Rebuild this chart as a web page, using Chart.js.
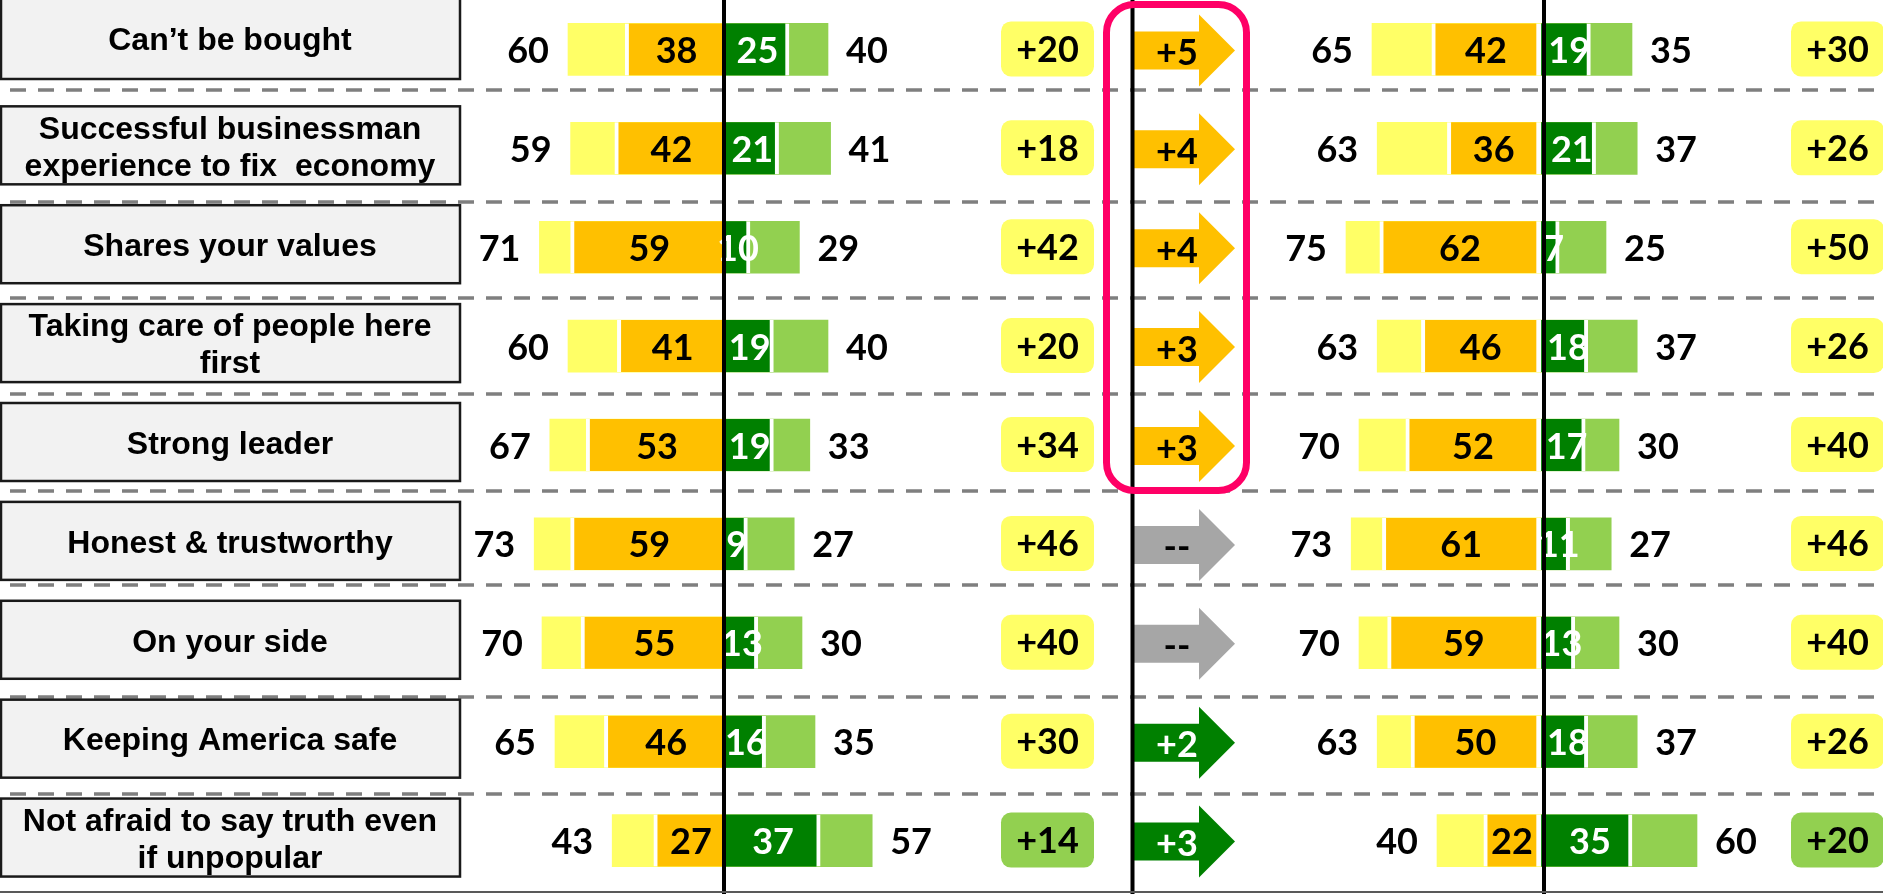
<!DOCTYPE html>
<html>
<head>
<meta charset="utf-8">
<title>Atributos</title>
<script src="https://cdn.jsdelivr.net/npm/chart.js@4.4.1/dist/chart.umd.min.js"></script>
<style>
  html, body { margin: 0; padding: 0; background: #fff; }
  #wrap { width: 1883px; height: 894px; }
</style>
</head>
<body>
<div id="wrap"><canvas id="attrChart" width="1883" height="894"></canvas></div>
<script>
// Filas (atributos)
const categories = [
    'Can’t be bought',
    ['Successful businessman', 'experience to fix  economy'],
    'Shares your values',
    ['Taking care of people here', 'first'],
    'Strong leader',
    'Honest & trustworthy',
    'On your side',
    'Keeping America safe',
    ['Not afraid to say truth even', 'if unpopular']
];

// Primera medición: lado izquierdo (total / fuerte) y lado derecho (fuerte / total)
const leftTotal1   = [60, 59, 71, 60, 67, 73, 70, 65, 43];
const leftStrong1  = [38, 42, 59, 41, 53, 59, 55, 46, 27];
const rightStrong1 = [25, 21, 10, 19, 19, 9, 13, 16, 37];
const rightTotal1  = [40, 41, 29, 40, 33, 27, 30, 35, 57];
const net1 = ['+20', '+18', '+42', '+20', '+34', '+46', '+40', '+30', '+14'];

// Cambio entre mediciones
const change = ['+5', '+4', '+4', '+3', '+3', '--', '--', '+2', '+3'];

// Segunda medición
const leftTotal2   = [65, 63, 75, 63, 70, 73, 70, 63, 40];
const leftStrong2  = [42, 36, 62, 46, 52, 61, 59, 50, 22];
const rightStrong2 = [19, 21, 7, 18, 17, 11, 13, 18, 35];
const rightTotal2  = [35, 37, 25, 37, 30, 27, 30, 37, 60];
const net2 = ['+30', '+26', '+50', '+26', '+40', '+46', '+40', '+26', '+20'];

// Estilos
const C = {
    yellow: '#ffff66',
    orange: '#ffc000',
    green: '#008000',
    lightGreen: '#92d050',
    gray: '#a6a6a6',
    pink: '#ff0066'
};
const netColors = [C.yellow, C.yellow, C.yellow, C.yellow, C.yellow, C.yellow, C.yellow, C.yellow, C.lightGreen];
const arrowColors = [C.orange, C.orange, C.orange, C.orange, C.orange, C.gray, C.gray, C.green, C.green];

// Layout (px)
const W = 1883, H = 894;
const PX = 2.6;            // px por punto porcentual
const ZERO_1 = 724;        // eje central del primer gráfico
const ZERO_2 = 1541;       // eje central del segundo gráfico
const dashShift = [-9, 4, 1, -2, -3, -8, 5, 3];  // ajuste de las líneas punteadas respecto al punto medio
const NUM_FONT = 'bold 36px Lato, "Open Sans", sans-serif';
const LABEL_FONT = 'bold 32px "Liberation Sans", Arial, sans-serif';

function bar(data, axis, color, border) {
    return {
        data: data,
        xAxisID: axis,
        yAxisID: 'y',
        backgroundColor: color,
        borderColor: '#ffffff',
        borderWidth: border,
        borderSkipped: false,
        grouped: false,
        barThickness: 52
    };
}

const neg = arr => arr.map(v => -v);

// Orden: los "fuertes" primero para que se pinten encima de los totales
const datasets = [
    bar(neg(leftStrong1), 'x1', C.orange, { left: 4 }),
    bar(rightStrong1, 'x1', C.green, { right: 4 }),
    bar(neg(leftTotal1), 'x1', C.yellow, 0),
    bar(rightTotal1, 'x1', C.lightGreen, 0),
    bar(neg(leftStrong2), 'x2', C.orange, { left: 4, right: 5 }),
    bar(rightStrong2, 'x2', C.green, { right: 4 }),
    bar(neg(leftTotal2), 'x2', C.yellow, 0),
    bar(rightTotal2, 'x2', C.lightGreen, 0)
];

function roundBox(ctx, x, y, w, h, r) {
    ctx.beginPath();
    ctx.roundRect(x, y, w, h, r);
}

const decor = {
    id: 'decor',
    beforeDatasetsDraw(chart) {
        const ctx = chart.ctx;
        const y = chart.scales.y;
        ctx.save();
        // líneas punteadas entre filas
        ctx.strokeStyle = '#7f7f7f';
        ctx.lineWidth = 3.5;
        ctx.setLineDash([16, 12]);
        for (let i = 0; i < categories.length - 1; i++) {
            const py = Math.round((y.getPixelForValue(i) + y.getPixelForValue(i + 1)) / 2) + dashShift[i];
            ctx.beginPath();
            ctx.moveTo(10, py);
            ctx.lineTo(W, py);
            ctx.stroke();
        }
        ctx.setLineDash([]);

        // cajas de etiqueta
        categories.forEach((lab, i) => {
            let cy = y.getPixelForValue(i) - 3;
            let top = cy - 39, bottom = cy + 39;
            if (i === 0) { top = -3; bottom = 79; cy = 38; }
            ctx.fillStyle = '#f2f2f2';
            ctx.strokeStyle = '#1a1a1a';
            ctx.lineWidth = 2.5;
            ctx.fillRect(1, top, 459, bottom - top);
            ctx.strokeRect(1, top, 459, bottom - top);
            const lines = Array.isArray(lab) ? lab : [lab];
            ctx.fillStyle = '#000';
            ctx.font = LABEL_FONT;
            ctx.textAlign = 'center';
            ctx.textBaseline = 'middle';
            lines.forEach((t, k) => {
                ctx.fillText(t, 230, cy + 3 + (k - (lines.length - 1) / 2) * 37);
            });
        });
        ctx.restore();
    },
    afterDatasetsDraw(chart) {
        const ctx = chart.ctx;
        const y = chart.scales.y;
        ctx.save();
        ctx.font = NUM_FONT;
        ctx.textBaseline = 'middle';

        // números de las barras, por grupo de 4 datasets
        [0, 4].forEach(base => {
            const sl = chart.getDatasetMeta(base).data;
            const sr = chart.getDatasetMeta(base + 1).data;
            const tl = chart.getDatasetMeta(base + 2).data;
            const tr = chart.getDatasetMeta(base + 3).data;
            const src = base === 0
                ? [leftStrong1, rightStrong1, leftTotal1, rightTotal1]
                : [leftStrong2, rightStrong2, leftTotal2, rightTotal2];
            const shift = base === 0 ? 0 : 5;
            for (let i = 0; i < categories.length; i++) {
                const ty = sl[i].y + 2;
                ctx.fillStyle = '#000';
                ctx.textAlign = 'center';
                ctx.fillText(String(src[0][i]), (sl[i].x + sl[i].base) / 2 + 2 - shift / 2, ty);
                ctx.fillStyle = '#fff';
                ctx.fillText(String(src[1][i]), (sr[i].x + sr[i].base) / 2 + 1 + shift / 2, ty);
                ctx.fillStyle = '#000';
                ctx.textAlign = 'right';
                ctx.fillText(String(src[2][i]), tl[i].x - 19, ty);
                ctx.textAlign = 'left';
                ctx.fillText(String(src[3][i]), tr[i].x + 18, ty);
            }
        });

        // cajas de diferencia neta
        const netBox = (vals, x0) => {
            vals.forEach((t, i) => {
                const cy = y.getPixelForValue(i) - 1;
                ctx.fillStyle = netColors[i];
                roundBox(ctx, x0, cy - 27, 93, 55, 10);
                ctx.fill();
                ctx.fillStyle = '#000';
                ctx.textAlign = 'center';
                ctx.fillText(t, x0 + 46.5, cy + 2);
            });
        };
        netBox(net1, 1001);
        netBox(net2, 1791);

        // flechas de cambio
        change.forEach((t, i) => {
            const cy = y.getPixelForValue(i) + 1;
            ctx.fillStyle = arrowColors[i];
            ctx.beginPath();
            ctx.moveTo(1134, cy - 19);
            ctx.lineTo(1199, cy - 19);
            ctx.lineTo(1199, cy - 36);
            ctx.lineTo(1235, cy);
            ctx.lineTo(1199, cy + 36);
            ctx.lineTo(1199, cy + 19);
            ctx.lineTo(1134, cy + 19);
            ctx.closePath();
            ctx.fill();
            ctx.fillStyle = arrowColors[i] === C.green ? '#fff' : '#000';
            ctx.textAlign = 'center';
            ctx.fillText(t, 1177, cy + 3);
        });

        // líneas verticales
        ctx.strokeStyle = '#000';
        ctx.lineWidth = 4;
        [ZERO_1, 1132.5, ZERO_2 + 3].forEach(x => {
            ctx.beginPath();
            ctx.moveTo(x, 0);
            ctx.lineTo(x, H);
            ctx.stroke();
        });
        // línea inferior
        ctx.strokeStyle = '#595959';
        ctx.lineWidth = 2;
        ctx.beginPath();
        ctx.moveTo(0, 892);
        ctx.lineTo(W, 892);
        ctx.stroke();

        // marco rosa sobre las primeras cinco flechas
        ctx.strokeStyle = C.pink;
        ctx.lineWidth = 7;
        roundBox(ctx, 1106.5, 4.5, 140, 486, 28);
        ctx.stroke();
        ctx.restore();
    }
};

new Chart(document.getElementById('attrChart'), {
    type: 'bar',
    data: { labels: categories, datasets: datasets },
    options: {
        indexAxis: 'y',
        responsive: false,
        animation: false,
        devicePixelRatio: 1,
        layout: { padding: { top: 0, left: 0, right: 0, bottom: 4 } },
        plugins: { legend: { display: false }, tooltip: { enabled: false } },
        scales: {
            y: { type: 'category', display: false },
            x1: { type: 'linear', axis: 'x', display: false, min: -ZERO_1 / PX, max: (W - ZERO_1) / PX },
            x2: { type: 'linear', axis: 'x', display: false, min: -ZERO_2 / PX, max: (W - ZERO_2) / PX }
        }
    },
    plugins: [decor]
});
</script>
</body>
</html>
